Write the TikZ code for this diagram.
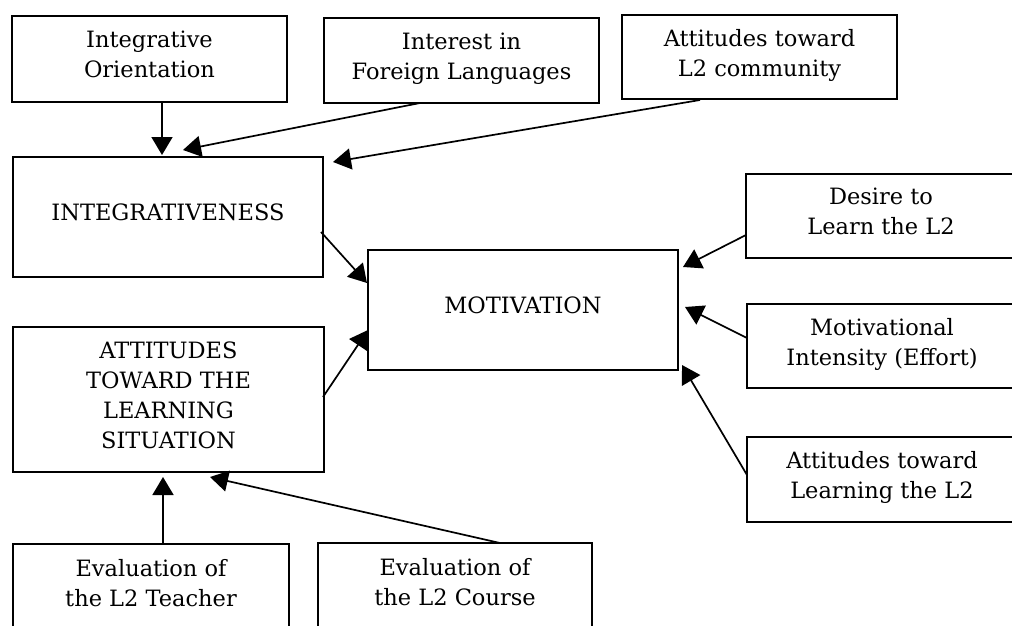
\documentclass[tikz,border=0pt]{standalone}
\usepackage{fontspec}
\setmainfont{DejaVu Serif}
\usetikzlibrary{arrows.meta,calc}
\begin{document}
\begin{tikzpicture}[x=1pt,y=-1pt,
  box/.style={draw, line width=1.8pt, inner sep=0pt, outer sep=0pt, anchor=north west,
    align=center, text depth=9pt, font=\fontsize{22.5}{30}\selectfont},
  arr/.style={line width=1.7pt, -{Triangle[length=18pt,width=21pt]}}]
\useasboundingbox (0,0) rectangle (1012,626);
\fill[white] (0,0) rectangle (1012,626);
\clip (0,0) rectangle (1012,626);
% top row
\node[box, minimum width=275pt, minimum height=86pt] (io) at (12,16) {Integrative\\Orientation};
\node[box, minimum width=275pt, minimum height=85pt] (fl) at (324,18) {Interest in\\Foreign Languages};
\node[box, minimum width=275pt, minimum height=84pt] (ac) at (622,15) {Attitudes toward\\L2 community};
% left column
\node[box, minimum width=310pt, minimum height=120pt] (integ) at (13,157) {INTEGRATIVENESS};
\node[box, minimum width=311pt, minimum height=145pt] (att) at (13,327) {ATTITUDES\\TOWARD THE\\LEARNING\\SITUATION};
% centre
\node[box, minimum width=310pt, minimum height=120pt] (mot) at (368,250) {MOTIVATION};
% right column
\node[box, minimum width=270pt, minimum height=84pt] (desire) at (746,174) {Desire to\\Learn the L2};
\node[box, minimum width=270pt, minimum height=84pt] (effort) at (747,304) {Motivational\\Intensity (Effort)};
\node[box, minimum width=270pt, minimum height=85pt] (learn) at (747,437) {Attitudes toward\\Learning the L2};
% bottom row
\node[box, minimum width=276pt, minimum height=86pt] (teacher) at (13,544) {Evaluation of\\the L2 Teacher};
\node[box, minimum width=274pt, minimum height=87pt] (course) at (318,543) {Evaluation of\\the L2 Course};
% connectors
\draw[arr] ($(io.south west)+(150,0)$) -- ($(integ.north west)+(149,-2)$);
\draw[arr] ($(fl.south west)+(96,0)$) -- ($(integ.north west)+(170,-7)$);
\draw[arr] ($(ac.south west)+(78,1)$) -- ($(integ.north east)+(10,5)$);
\draw[arr] ($(integ.north east)+(-2,75)$) -- ($(mot.north west)+(-1,33)$);
\draw[arr] ($(att.north east)+(-1,70)$) -- ($(mot.north west)+(0,80)$);
\draw[arr] ($(desire.north west)+(0,61)$) -- ($(mot.north east)+(5,17)$);
\draw[arr] ($(effort.north west)+(0,34)$) -- ($(mot.north east)+(7,57)$);
\draw[arr] ($(learn.north west)+(0,38)$) -- ($(mot.south east)+(4,-5)$);
\draw[arr] ($(teacher.north west)+(150,0)$) -- ($(att.south west)+(150,5)$);
\draw[arr] ($(course.north west)+(182,0)$) -- ($(att.south west)+(197,5)$);
\end{tikzpicture}
\end{document}
